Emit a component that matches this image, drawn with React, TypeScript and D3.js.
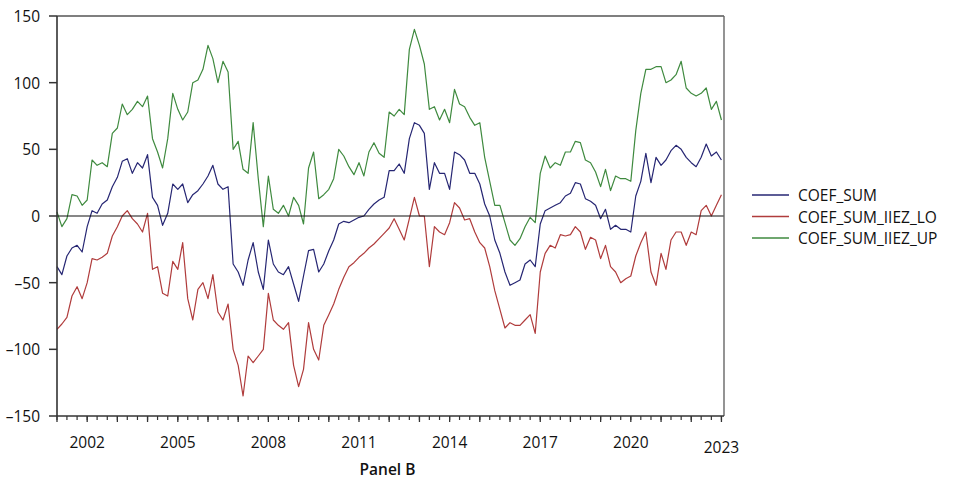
import React from "react";
import * as d3 from "d3";

// Bi-monthly observations, Jan 2001 through Jan 2023
const startDate = new Date(2001, 0, 1);
const endDate = new Date(2023, 1, 1);
const dates: Date[] = d3.timeMonth.every(2)!.range(startDate, endDate);

const coefSum: number[] = [
  -38, -44, -30, -24, -22, -27, -8, 4, 2, 9, 12, 22, 29, 41, 43, 32, 40, 36, 46, 14,
  8, -7, 2, 24, 20, 24, 10, 16, 19, 24, 30, 38, 24, 20, 22, -36, -42, -52, -33, -20,
  -42, -55, -18, -36, -42, -44, -38, -51, -64, -45, -26, -25, -42, -36, -26, -18, -6, -4, -5, -3,
  -1, 0, 5, 9, 12, 14, 34, 34, 39, 32, 58, 70, 68, 62, 20, 40, 32, 32, 20, 48,
  46, 42, 32, 32, 24, 9, 0, -18, -28, -42, -52, -50, -48, -36, -33, -38, -6, 4, 6, 8,
  10, 15, 17, 25, 24, 13, 11, 8, -2, 5, -10, -7, -10, -10, -12, 15, 26, 47, 25, 44,
  38, 42, 49, 53, 50, 44, 40, 37, 44, 54, 45, 48, 42,
];

const coefSumLo: number[] = [
  -85, -81, -76, -60, -53, -62, -50, -32, -33, -31, -28, -15, -8, 0, 4, -2, -6, -12, 2, -40,
  -38, -58, -60, -34, -40, -20, -62, -78, -55, -50, -62, -44, -72, -78, -66, -100, -112, -135, -105, -110,
  -105, -100, -58, -78, -82, -85, -80, -112, -128, -115, -80, -100, -108, -82, -74, -66, -55, -46, -38, -35,
  -31, -28, -24, -21, -17, -13, -9, -2, -10, -18, -2, 14, 0, 0, -38, -8, -12, -14, -5, 10,
  6, -3, -2, -12, -20, -24, -38, -56, -70, -84, -80, -82, -82, -78, -74, -88, -42, -28, -22, -24,
  -14, -15, -14, -8, -12, -25, -16, -18, -32, -22, -38, -42, -50, -47, -45, -30, -20, -12, -42, -52,
  -28, -40, -18, -12, -12, -22, -12, -14, 4, 8, 0, 8, 16,
];

const coefSumUp: number[] = [
  3, -8, -2, 16, 15, 8, 12, 42, 38, 40, 37, 62, 66, 84, 76, 80, 86, 82, 90, 58,
  48, 36, 58, 92, 80, 72, 78, 100, 102, 110, 128, 118, 100, 116, 108, 50, 56, 35, 32, 70,
  28, -8, 30, 5, 2, 8, 0, 14, 8, -6, 36, 48, 13, 16, 20, 28, 50, 45, 37, 31,
  40, 30, 48, 55, 47, 44, 78, 75, 80, 76, 125, 140, 128, 114, 80, 82, 72, 80, 70, 95,
  84, 82, 74, 68, 70, 44, 26, 8, 8, -5, -18, -22, -17, -8, -1, -5, 32, 45, 36, 40,
  38, 48, 48, 56, 55, 42, 40, 33, 22, 35, 19, 30, 28, 28, 26, 64, 92, 110, 110, 112,
  112, 100, 102, 106, 116, 96, 92, 90, 92, 96, 80, 86, 72,
];

const seriesNames = ["COEF_SUM", "COEF_SUM_IIEZ_LO", "COEF_SUM_IIEZ_UP"];
const seriesColors = ["#262673", "#b03c3c", "#3f8a3f"];
const yTicks = [150, 100, 50, 0, -50, -100, -150];
const xLabelYears = [2002, 2005, 2008, 2011, 2014, 2017, 2020, 2023];
const panelTitle = "Panel B";

const W = 953;
const H = 480;
const plot = { left: 57, right: 724, top: 16, bottom: 416 };
const FONT = "'Open Sans', 'DejaVu Sans', sans-serif";

export default function App() {
  const x = d3.scaleTime().domain([startDate, endDate]).range([plot.left, plot.right]);
  const y = d3.scaleLinear().domain([-150, 150]).range([plot.bottom, plot.top]);

  const allSeries = [coefSum, coefSumLo, coefSumUp];
  const line = (vals: number[]) =>
    d3
      .line<number>()
      .x((_, i) => x(dates[i]))
      .y((v) => y(v))(vals) as string;

  const minorTicks = d3.timeMonth.every(4)!.range(startDate, endDate);
  const yearTicks = d3.timeYear.range(startDate, d3.timeMonth.offset(endDate, 1));

  const legendX = 752;
  const legendRows = [195, 216.5, 238];

  return (
    <svg
      width={W}
      height={H}
      style={{ position: "absolute", left: 0, top: 0, background: "#fff" }}
      fontFamily={FONT}
    >
      <rect x={0} y={0} width={W} height={H} fill="#fff" />

      {/* series */}
      <g fill="none" strokeWidth={1.2} strokeLinejoin="round">
        {[2, 0, 1].map((i) => (
          <path key={i} d={line(allSeries[i])} stroke={seriesColors[i]} />
        ))}
      </g>

      {/* zero reference line */}
      <line x1={plot.left} x2={plot.right} y1={y(0)} y2={y(0)} stroke="#111" strokeWidth={1.1} />

      {/* frame */}
      <line x1={plot.left} x2={plot.right} y1={plot.top} y2={plot.top} stroke="#555" strokeWidth={1.6} />
      <line x1={plot.right} x2={plot.right} y1={plot.top} y2={plot.bottom} stroke="#666" strokeWidth={1.4} />
      <line x1={plot.left} x2={plot.left} y1={plot.top} y2={plot.bottom} stroke="#333" strokeWidth={1.6} />
      <line x1={plot.left} x2={plot.right} y1={plot.bottom} y2={plot.bottom} stroke="#333" strokeWidth={1.6} />

      {/* y axis */}
      {yTicks.map((t) => (
        <g key={t}>
          <line x1={plot.left - 8} x2={plot.left} y1={y(t)} y2={y(t)} stroke="#333" strokeWidth={1.5} />
          <text
            x={40}
            y={y(t)}
            textAnchor="end"
            dominantBaseline="central"
            fontSize={15.5}
            fill="#111"
          >
            {t < 0 ? "\u2013" + Math.abs(t) : String(t)}
          </text>
        </g>
      ))}

      {/* x axis ticks */}
      {minorTicks.map((d, i) => (
        <line key={"m" + i} x1={x(d)} x2={x(d)} y1={plot.bottom} y2={plot.bottom + 4} stroke="#333" strokeWidth={1.2} />
      ))}
      {yearTicks.map((d, i) => (
        <line key={"y" + i} x1={x(d)} x2={x(d)} y1={plot.bottom} y2={plot.bottom + 6} stroke="#333" strokeWidth={1.3} />
      ))}
      {xLabelYears.map((yr) => (
        <text
          key={yr}
          x={x(new Date(yr, 0, 1))}
          y={yr === 2023 ? 447 : 442}
          textAnchor="middle"
          dominantBaseline="central"
          fontSize={15.5}
          fill="#111"
        >
          {yr}
        </text>
      ))}

      <text
        x={(plot.left + plot.right) / 2 - 3}
        y={469}
        textAnchor="middle"
        dominantBaseline="central"
        fontSize={15.5}
        fontWeight={600}
        fill="#111"
      >
        {panelTitle}
      </text>

      {/* legend */}
      {seriesNames.map((name, i) => (
        <g key={name}>
          <line
            x1={legendX}
            x2={legendX + 37}
            y1={legendRows[i]}
            y2={legendRows[i]}
            stroke={seriesColors[i]}
            strokeWidth={1.3}
          />
          <text x={798} y={legendRows[i]} dominantBaseline="central" fontSize={15.5} fill="#111">
            {name}
          </text>
        </g>
      ))}
    </svg>
  );
}
